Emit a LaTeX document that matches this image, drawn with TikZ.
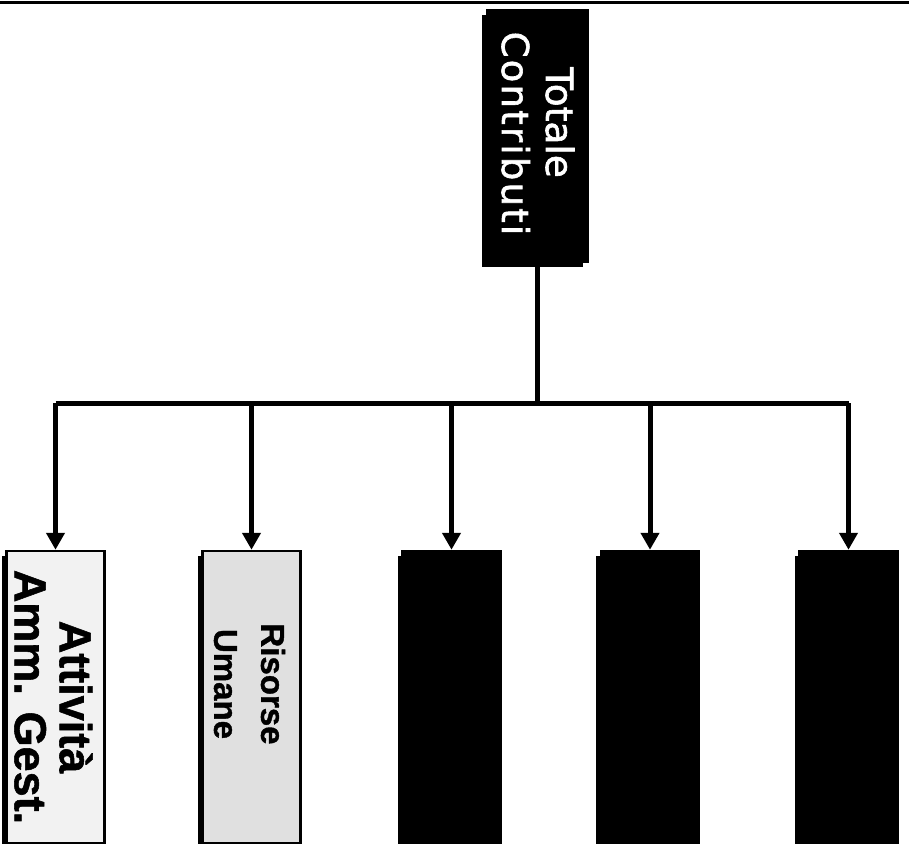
\documentclass[tikz,border=0pt]{standalone}
\usepackage{fontspec}
\newfontfamily\topfont{DejaVu Sans}[FakeBold=1.6]
\newfontfamily\topfontsp{DejaVu Sans}[LetterSpace=6,FakeBold=1.6]
\newfontfamily\boxfont{Liberation Sans}[FakeBold=1.2]
\usetikzlibrary{arrows.meta,shadows}
\begin{document}
\begin{tikzpicture}[x=1pt,y=-1pt,
  shadowed/.style={drop shadow={shadow xshift=-5pt,shadow yshift=-5pt,fill=black,opacity=1}},
  topbox/.style={draw=black,fill=black,line width=1.5pt,minimum width=101pt,minimum height=252pt,inner sep=0pt,shadowed},
  lowbox/.style={draw=black,line width=2.5pt,minimum width=98pt,minimum height=292pt,inner sep=0pt,shadowed},
  conn/.style={line width=5pt,line cap=square},
  arr/.style={line width=5pt,-{Triangle[length=17pt,width=18pt]}},
  toptext/.style={rotate=-90,anchor=base,inner sep=0pt,text=white},
  lowtext/.style={rotate=-90,align=center,text=black}
]
\useasboundingbox (0,0) rectangle (909,843);
\fill[white] (0,0) rectangle (909,843);
\draw[line width=3pt] (0,2.5) -- (909,2.5);

\node[topbox] (top) at (537.5,136) {};
\node[toptext,font=\topfont\fontsize{37.5}{44}\selectfont] (toptxt1) at (546,122.5) {Totale};
\node[toptext,font=\topfontsp\fontsize{37}{44}\selectfont] (toptxt2) at (502,133.5) {Contributi};

\node[lowbox,fill=black!5] (b1) at (55.5,697) {};
\node[lowbox,fill=black!12] (b2) at (251.5,697) {};
\node[lowbox,fill=black] (b3) at (451.5,697) {};
\node[lowbox,fill=black] (b4) at (650,697) {};
\node[lowbox,fill=black] (b5) at (848.5,697) {};

\node[lowtext,font=\boxfont\bfseries\fontsize{45}{45}\selectfont] (t1) at (53.5,697) {Attività\\Amm. Gest.};
\node[lowtext,font=\boxfont\bfseries\fontsize{33}{47}\selectfont] (t2) at (249.5,684) {Risorse\\Umane};

\coordinate (bar) at (0,403);
\draw[conn] (top.south) -- (top.south |- bar);
\draw[conn] (b1.north |- bar) -- (b5.north |- bar);
\foreach \i in {1,...,5}{
  \draw[arr] (b\i.north |- bar) -- (b\i.north);
}
\end{tikzpicture}
\end{document}
